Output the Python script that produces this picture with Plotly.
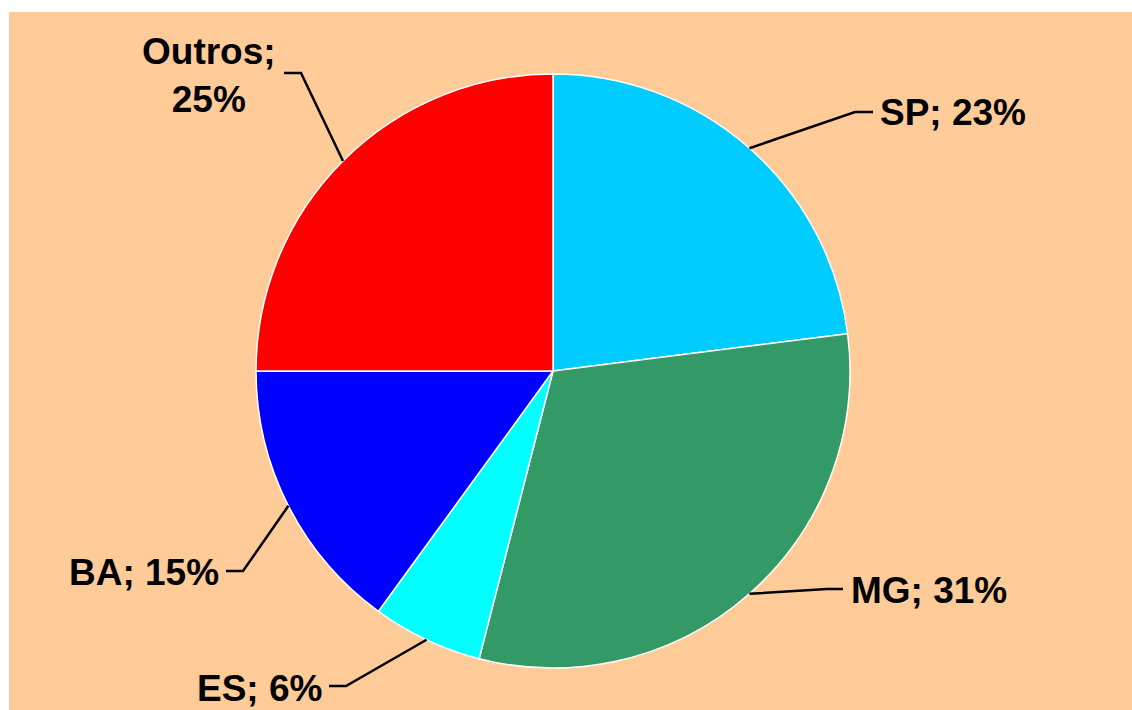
import math
import plotly.graph_objects as go

# ---- data ----
labels = ["SP", "MG", "ES", "BA", "Outros"]
values = [23, 31, 6, 15, 25]
colors = ["#00CCFF", "#339966", "#00FFFF", "#0000FF", "#FF0000"]

# ---- layout constants (pixels, in window coordinates) ----
W, H = 1132, 710
BG_L, BG_T = 9, 12           # peach area top-left in px
ML, MT, MR, MB = BG_L, BG_T, 0, 0
PW, PH = W - ML - MR, H - MT - MB
CX, CY, R = 553, 371, 297    # pie centre / radius in px


def px2paper(x, y):
    return (x - ML) / PW, (H - MB - y) / PH


# label text positions & elbows (px)
label_pos = {
    "SP": dict(x=878, y=112, xanchor="left", elbow=(855, 112), end=(873, 112)),
    "MG": dict(x=849, y=590, xanchor="left", elbow=(827, 589), end=(843, 589)),
    "ES": dict(x=324, y=688, xanchor="right", elbow=(346, 686), end=(329, 686)),
    "BA": dict(x=221, y=572, xanchor="right", elbow=(243, 571), end=(226, 571)),
    "Outros": dict(x=209, y=75, xanchor="center", elbow=(301, 73), end=(284, 73)),
}

fig = go.Figure()

x0, y1 = px2paper(CX - R, CY - R)
x1, y0 = px2paper(CX + R, CY + R)

fig.add_trace(go.Pie(
    labels=labels, values=values, sort=False, direction="clockwise", rotation=0,
    marker=dict(colors=colors, line=dict(color="white", width=1.5)),
    textinfo="none", hoverinfo="skip", showlegend=False,
    domain=dict(x=[x0, x1], y=[y0, y1]),
))

total = sum(values)
cum = 0
shapes = [dict(type="rect", xref="paper", yref="paper", x0=0, x1=1, y0=0, y1=1,
               fillcolor="#FFCC99", line=dict(width=0), layer="below")]
annotations = []
for lab, v in zip(labels, values):
    mid = (cum + v / 2) / total * 2 * math.pi
    cum += v
    ex = CX + R * math.sin(mid)
    ey = CY - R * math.cos(mid)
    p = label_pos[lab]
    pts = [px2paper(ex, ey), px2paper(*p["elbow"]), px2paper(*p["end"])]
    path = "M {} {} L {} {} L {} {}".format(*[c for pt in pts for c in pt])
    shapes.append(dict(type="path", xref="paper", yref="paper", path=path,
                       line=dict(color="black", width=2.5)))
    pct = f"{round(v / total * 100)}%"
    text = f"{lab};<br>{pct}" if lab == "Outros" else f"{lab}; {pct}"
    ax, ay = px2paper(p["x"], p["y"])
    annotations.append(dict(x=ax, y=ay, xref="paper", yref="paper", text=text,
                            showarrow=False, xanchor=p["xanchor"], yanchor="middle",
                            align="center",
                            font=dict(family="Liberation Sans, Arial", size=37,
                                      color="black", weight="bold")))

fig.update_layout(
    width=W, height=H, margin=dict(l=ML, r=MR, t=MT, b=MB),
    paper_bgcolor="white", plot_bgcolor="white",
    shapes=shapes, annotations=annotations, hovermode=False,
)

fig.write_html(
    "out.html",
    config={"displayModeBar": False, "staticPlot": True},
    post_script="document.body.style.margin='0';document.body.style.overflow='hidden';",
)
